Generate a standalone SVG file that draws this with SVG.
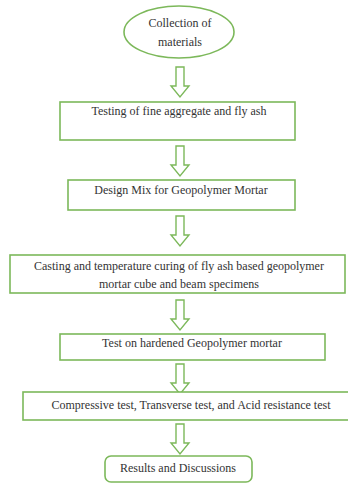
<svg xmlns="http://www.w3.org/2000/svg" xmlns:xlink="http://www.w3.org/1999/xlink" width="348" height="484" viewBox="0 0 348 484">
<style>
.n{fill:#fff;stroke:#7cb85a;stroke-width:1.6}
.t{font-family:"Liberation Serif","Times New Roman","DejaVu Serif",serif;font-size:12px;fill:#333;text-anchor:middle}
.a{fill:#fff;stroke:#7cb85a;stroke-width:1.4;stroke-linejoin:miter}
</style>
<defs>
<path id="arr" d="M-4,0 H4 V19 H9 L0,30 L-9,19 H-4 Z"/>
</defs>
<rect width="348" height="484" fill="#fff"/>
<g id="connectors">
<use xlink:href="#arr" class="a" x="180" y="67"/>
<use xlink:href="#arr" class="a" x="180" y="146"/>
<use xlink:href="#arr" class="a" x="180" y="216"/>
<use xlink:href="#arr" class="a" x="180" y="300"/>
<use xlink:href="#arr" class="a" x="180" y="364"/>
<use xlink:href="#arr" class="a" x="180" y="424"/>
</g>
<g id="n1">
<ellipse class="n" cx="179" cy="32" rx="55" ry="26"/>
<text class="t" x="180" y="27">Collection of</text>
<text class="t" x="180" y="46">materials</text>
</g>
<g id="n2">
<rect class="n" x="60" y="102" width="235" height="38"/>
<text class="t" x="179" y="115">Testing of fine aggregate and fly ash</text>
</g>
<g id="n3">
<rect class="n" x="68" y="180" width="227" height="30"/>
<text class="t" x="181" y="194">Design Mix for Geopolymer Mortar</text>
</g>
<g id="n4">
<rect class="n" x="10" y="255" width="335" height="38"/>
<text class="t" x="179" y="270">Casting and temperature curing of fly ash based geopolymer</text>
<text class="t" x="179" y="288">mortar cube and beam specimens</text>
</g>
<g id="n5">
<rect class="n" x="60" y="334" width="265" height="26"/>
<text class="t" x="192" y="347">Test on hardened Geopolymer mortar</text>
</g>
<g id="n6">
<rect class="n" x="23" y="392" width="330" height="28"/>
<text class="t" x="191" y="409">Compressive test, Transverse test, and Acid resistance test</text>
</g>
<g id="n7">
<rect class="n" x="105" y="456" width="147" height="26" rx="6"/>
<text class="t" x="178" y="472">Results and Discussions</text>
</g>
</svg>
